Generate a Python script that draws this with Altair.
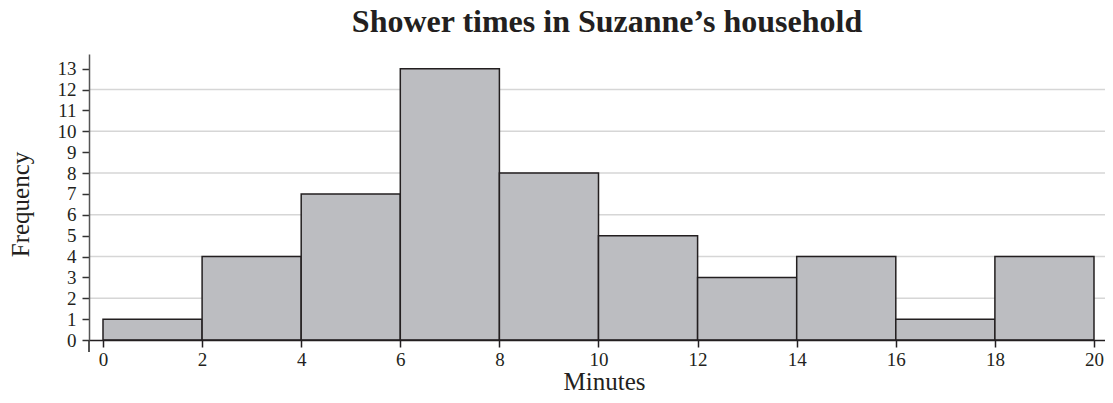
import altair as alt
import pandas as pd

title_text = ["Shower times in Suzanne\u2019s household"]
bin_start = [0, 2, 4, 6, 8, 10, 12, 14, 16, 18]
bin_end = [2, 4, 6, 8, 10, 12, 14, 16, 18, 20]
counts = [1, 4, 7, 13, 8, 5, 3, 4, 1, 4]
x_ticks = [0, 2, 4, 6, 8, 10, 12, 14, 16, 18, 20]
y_ticks = list(range(0, 14))
grid_values = [2, 4, 6, 8, 10, 12]

W, H = 1016, 286
FONT = "Liberation Serif"

bars_df = pd.DataFrame({"start": bin_start, "end": bin_end, "count": counts})
grid_df = pd.DataFrame({"g": grid_values})
title_df = pd.DataFrame({"t": title_text})

xscale = alt.Scale(domain=[-0.2825, 20.222], nice=False, zero=False)
yscale = alt.Scale(domain=[0, 13.704], nice=False)

x_axis = alt.Axis(
    values=x_ticks,
    title="Minutes",
    titleFont=FONT,
    titleFontSize=25,
    titleFontWeight="normal",
    titleColor="#231f20",
    titleX=515,
    titleY=49,
    titleBaseline="alphabetic",
    titleAnchor="start",
    titleAlign="center",
    labelFont=FONT,
    labelFontSize=19,
    labelColor="#231f20",
    labelPadding=3,
    tickSize=7,
    tickColor="#231f20",
    tickWidth=1.5,
    domainColor="#231f20",
    domainWidth=1.5,
    grid=False,
    zindex=1,
)

y_axis = alt.Axis(
    values=y_ticks,
    title="Frequency",
    titleFont=FONT,
    titleFontSize=25,
    titleFontWeight="normal",
    titleColor="#231f20",
    titleAngle=270,
    titleX=-69,
    titleY=150,
    titleBaseline="middle",
    titleAlign="center",
    titleAnchor="start",
    labelFont=FONT,
    labelFontSize=19,
    labelColor="#231f20",
    labelPadding=6,
    tickSize=7,
    tickColor="#333333",
    tickWidth=1.5,
    domainColor="#555555",
    domainWidth=1.5,
    grid=False,
    zindex=1,
)

grid = alt.Chart(grid_df).mark_rule(color="#d6d6d6", strokeWidth=1.5).encode(
    y=alt.Y("g:Q", scale=yscale, axis=y_axis),
    x=alt.value(0),
    x2=alt.value(W),
)

bars = alt.Chart(bars_df).mark_rect(
    fill="#bcbdc1", stroke="#231f20", strokeWidth=1.5
).encode(
    x=alt.X("start:Q", scale=xscale, axis=x_axis),
    x2="end:Q",
    y=alt.Y("count:Q", scale=yscale, axis=y_axis),
    y2=alt.datum(0),
)

ext = alt.Chart(grid_df).mark_rule(color="#555555", strokeWidth=1.5).encode(
    x=alt.value(0),
    y=alt.value(H),
    y2=alt.value(H + 12),
)

title = alt.Chart(title_df).mark_text(
    font=FONT,
    fontSize=32,
    fontWeight="bold",
    color="#231f20",
    align="center",
    baseline="alphabetic",
).encode(
    text="t:N",
    x=alt.value(518),
    y=alt.value(-22),
)

chart = alt.layer(grid, bars, ext, title).properties(
    width=W,
    height=H,
    autosize=alt.AutoSizeParams(type="none"),
    padding={"left": 81, "top": 46, "right": 0, "bottom": 55},
).configure_view(stroke=None)

chart.save("out.html", embed_options={"renderer": "svg", "actions": False})
